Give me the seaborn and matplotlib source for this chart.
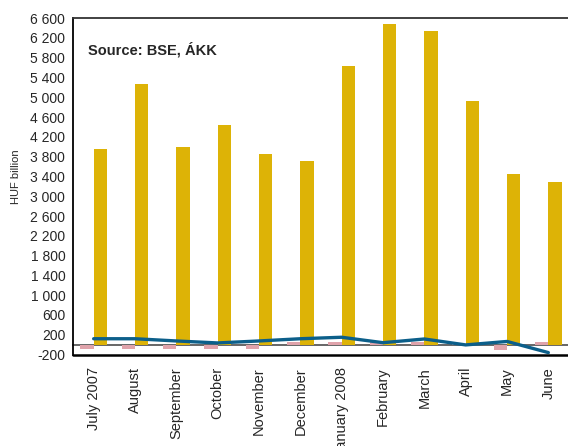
import numpy as np
import pandas as pd
import seaborn as sns
from matplotlib import pyplot as plt
from matplotlib.ticker import FixedLocator, NullFormatter

# data (HUF billion)
months = ["July 2007", "August", "September", "October", "November", "December",
          "January 2008", "February", "March", "April", "May", "June"]
gold_vals = [3950, 5270, 3990, 4440, 3860, 3720, 5640, 6470, 6340, 4930, 3440, 3280]
pink_vals = [-80, -80, -80, -80, -80, 45, 45, 45, 45, 20, -100, 50]
line_vals = [120, 120, 75, 35, 75, 120, 150, 40, 115, -5, 65, -160]
yticks = list(range(-200, 6601, 400))

gold = "#DDB306"
pink = "#E0A3AB"
blue = "#0C5F8A"

sns.set_style("white")
plt.rcParams['font.family'] = ['Liberation Sans', 'DejaVu Sans']
plt.rcParams['font.size'] = 10

df = pd.DataFrame({
    "month": months * 2,
    "series": ["pink"] * len(months) + ["gold"] * len(months),
    "value": pink_vals + gold_vals,
})

fig = plt.figure(figsize=(5.68, 4.46), dpi=100)
ax = fig.add_axes([0.1285, 0.205, 0.8733, 0.7545])

sns.barplot(data=df, x="month", y="value", hue="series", hue_order=["pink", "gold"],
            palette={"pink": pink, "gold": gold}, width=0.64, gap=0, saturation=1,
            edgecolor="none", linewidth=0, legend=False, ax=ax, zorder=3)
sns.lineplot(x=np.arange(len(months)), y=line_vals, color=blue, linewidth=2.4, ax=ax, zorder=5)

ax.set_xlim(-0.5, len(months) - 0.5)
ax.set_ylim(-200, 6600)
ax.set_yticks(yticks)
ax.set_yticklabels([f"{v:,}".replace(",", " ") for v in yticks])

# x axis sits on zero, labels below the frame
ax.spines['bottom'].set_position(('data', 0))
ax.spines['bottom'].set_color('#666666')
ax.spines['bottom'].set_linewidth(1.4)
ax.spines['bottom'].set_zorder(2)
ax.spines['right'].set_visible(False)
ax.spines['left'].set_color('black')
ax.spines['left'].set_linewidth(1.3)
ax.spines['top'].set_color('#333333')
ax.spines['top'].set_linewidth(1.3)
ax.axhline(-200, color='black', linewidth=1.8, clip_on=False)

ax.set_xticks(range(len(months)))
ax.set_xticklabels(months, rotation=90, va='top', ha='center', fontsize=10.5)
ax.tick_params(axis='x', which='major', length=0, pad=16)
ax.xaxis.set_minor_locator(FixedLocator(np.arange(0.5, len(months) - 1, 1)))
ax.xaxis.set_minor_formatter(NullFormatter())
ax.tick_params(axis='x', which='minor', direction='inout', length=7.5, width=1.2, color='#333333')
ax.tick_params(axis='y', direction='inout', length=5, width=1.1, color='black', pad=3)

ax.set_xlabel("")
ax.set_ylabel("HUF billion", fontsize=8)
ax.yaxis.set_label_coords(-0.105, 0.53)

ax.text(0.03, 0.93, "Source: BSE, ÁKK", transform=ax.transAxes, fontsize=10.5,
        fontweight='bold', va='top', ha='left')

plt.savefig("out.png", dpi=100)
